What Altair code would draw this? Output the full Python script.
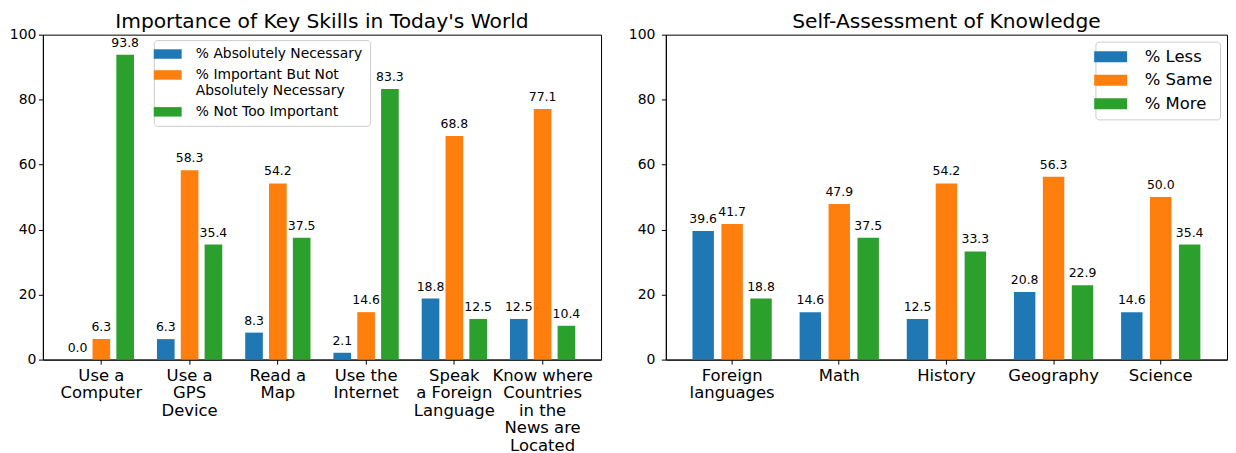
import altair as alt
import pandas as pd

# ---- data: left panel ----
skills = ["Use a\nComputer", "Use a\nGPS\nDevice", "Read a\nMap", "Use the\nInternet",
          "Speak\na Foreign\nLanguage", "Know where\nCountries\nin the\nNews are\nLocated"]
skill_series = ["% Absolutely Necessary", "% Important But Not\nAbsolutely Necessary", "% Not Too Important"]
absolutely_necessary = [0.0, 6.3, 8.3, 2.1, 18.8, 12.5]
important_not_absolutely = [6.3, 58.3, 54.2, 14.6, 68.8, 77.1]
not_too_important = [93.8, 35.4, 37.5, 83.3, 12.5, 10.4]

# ---- data: right panel ----
subjects = ["Foreign\nlanguages", "Math", "History", "Geography", "Science"]
know_series = ["% Less", "% Same", "% More"]
less = [39.6, 14.6, 12.5, 20.8, 14.6]
same = [41.7, 47.9, 54.2, 56.3, 50.0]
more = [18.8, 37.5, 33.3, 22.9, 35.4]

colors = ["#1f77b4", "#ff7f0e", "#2ca02c"]
FONT = "DejaVu Sans"

rows1 = []
for s, vals in zip(skill_series, [absolutely_necessary, important_not_absolutely, not_too_important]):
    for c, v in zip(skills, vals):
        rows1.append({"cat": c, "series": s, "value": v})
df1 = pd.DataFrame(rows1)

rows2 = []
for s, vals in zip(know_series, [less, same, more]):
    for c, v in zip(subjects, vals):
        rows2.append({"cat": c, "series": s, "value": v})
df2 = pd.DataFrame(rows2)


def panel(df, cats, series, title, width, pad_outer, ylabel_pad, legend):
    base = alt.Chart(df).encode(
        x=alt.X("cat:N", sort=cats,
                scale=alt.Scale(paddingInner=0.26, paddingOuter=pad_outer),
                axis=alt.Axis(title=None, labelAngle=0, labelExpr="split(datum.label, '\\n')",
                              labelFont=FONT, labelFontSize=16.5, labelLineHeight=17.5,
                              labelColor="black", labelPadding=3.5, tickSize=4.5,
                              tickColor="black", domainColor="black", labelBaseline="top")),
        xOffset=alt.XOffset("series:N", sort=series,
                            scale=alt.Scale(paddingInner=0.259, paddingOuter=0)),
    )
    yenc = alt.Y("value:Q", scale=alt.Scale(domain=[0, 100], nice=False),
                 axis=alt.Axis(title=None, values=[0, 20, 40, 60, 80, 100], grid=False,
                               labelFont=FONT, labelFontSize=14, labelColor="black",
                               labelPadding=ylabel_pad, tickSize=4.5, tickColor="black",
                               domainColor="black"))
    bars = base.mark_bar().encode(
        y=yenc,
        color=alt.Color("series:N", scale=alt.Scale(domain=series, range=colors),
                        sort=series, legend=legend),
    )
    text = base.mark_text(baseline="alphabetic", dy=-8, fontSize=12.5, font=FONT,
                          color="black").encode(
        y=alt.Y("value:Q"),
        text=alt.Text("value:Q", format=".1f"),
    )
    return alt.layer(bars, text).properties(
        width=width, height=326,
        title=alt.TitleParams(title, font=FONT, fontSize=20.3, fontWeight="normal",
                              color="black", anchor="middle", offset=-4.5),
    )


# legend symbols: flat rectangles wider than the nominal symbol size
legend_left = alt.Legend(
    title=None, orient="none", legendX=111.3, legendY=5.5, direction="vertical",
    fillColor="white", strokeColor="#cccccc", cornerRadius=3, padding=7,
    symbolType="M-2.947,-1L2.947,-1L2.947,1L-2.947,1Z", symbolSize=90.25,
    symbolStrokeWidth=0, symbolOpacity=1,
    labelFont=FONT, labelFontSize=13.9, labelColor="black", labelOffset=21.25,
    labelLimit=400, rowPadding=6,
    labelExpr="split(datum.label, '\\n')",
)
legend_right = alt.Legend(
    title=None, orient="none", legendX=431, legendY=7, direction="vertical",
    fillColor="white", strokeColor="#cccccc", cornerRadius=3, padding=7,
    symbolType="M-3,-1L3,-1L3,1L-3,1Z", symbolSize=121,
    symbolStrokeWidth=0, symbolOpacity=1,
    labelFont=FONT, labelFontSize=16.5, labelColor="black", labelOffset=26,
    labelLimit=400, rowPadding=6.5,
)

left = panel(df1, skills, skill_series, "Importance of Key Skills in Today's World",
             560, 0.2925, 2.5, legend_left)
right = panel(df2, subjects, know_series, "Self-Assessment of Knowledge",
              563, 0.2485, 6.5, legend_right)

chart = alt.hconcat(
    left, right, spacing=25,
    padding={"left": 0, "top": 2, "right": 0, "bottom": 0},
    background="white",
).resolve_scale(
    color="independent", x="independent", y="independent", xOffset="independent"
).configure_view(stroke="black", strokeWidth=1)

chart.save("out.html", embed_options={"renderer": "svg", "actions": False})
